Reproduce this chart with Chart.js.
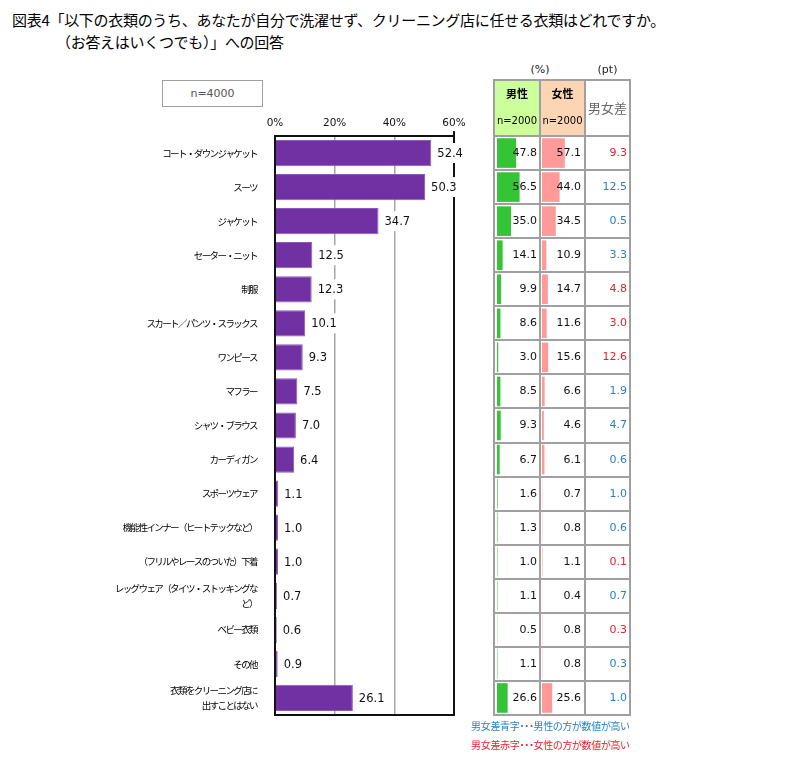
<!DOCTYPE html>
<html>
<head>
<meta charset="utf-8">
<script src="https://cdn.jsdelivr.net/npm/chart.js@4.4.1/dist/chart.umd.min.js"></script>
<style>
  html,body{margin:0;padding:0;background:#fff;}
  body{width:810px;height:766px;overflow:hidden;position:relative;font-family:"Noto Sans CJK JP","Noto Sans",sans-serif;color:#000;}
  .abs{position:absolute;white-space:nowrap;}
  .title{font-size:15px;line-height:22px;letter-spacing:-0.3px;}
  #nbox{left:162px;top:80px;width:99px;height:25px;border:1.5px solid #a0a0a0;font:11px "DejaVu Sans",sans-serif;color:#555;text-align:center;line-height:25px;}
  .num{font:11px "DejaVu Sans",sans-serif;color:#111;text-align:right;}
  .line{background:#a0a0a0;}
  .note{font-size:10px;line-height:14px;font-feature-settings:"palt";letter-spacing:-0.3px;}
</style>
</head>
<body>
<div class="abs title" style="left:12px;top:9px;">図表4「以下の衣類のうち、あなたが自分で洗濯せず、クリーニング店に任せる衣類はどれですか。</div>
<div class="abs title" style="left:56px;top:31px;">（お答えはいくつでも）」への回答</div>
<div class="abs" id="nbox">n=4000</div>

<canvas id="main" class="abs" width="480" height="766" style="left:0;top:0;"></canvas>
<div id="table"></div>

<script>
// ---------- data ----------
const categories = [
  'コート・ダウンジャケット',
  'スーツ',
  'ジャケット',
  'セーター・ニット',
  '制服',
  'スカート／パンツ・スラックス',
  'ワンピース',
  'マフラー',
  'シャツ・ブラウス',
  'カーディガン',
  'スポーツウェア',
  '機能性インナー（ヒートテックなど）',
  '（フリルやレースのついた）下着',
  ['レッグウェア（タイツ・ストッキングな', 'ど）'],
  'ベビー衣類',
  'その他',
  ['衣類をクリーニング店に', '出すことはない']
];
const totalValues  = [52.4, 50.3, 34.7, 12.5, 12.3, 10.1, 9.3, 7.5, 7.0, 6.4, 1.1, 1.0, 1.0, 0.7, 0.6, 0.9, 26.1];
const maleValues   = [47.8, 56.5, 35.0, 14.1, 9.9, 8.6, 3.0, 8.5, 9.3, 6.7, 1.6, 1.3, 1.0, 1.1, 0.5, 1.1, 26.6];
const femaleValues = [57.1, 44.0, 34.5, 10.9, 14.7, 11.6, 15.6, 6.6, 4.6, 6.1, 0.7, 0.8, 1.1, 0.4, 0.8, 0.8, 25.6];
const diffValues   = [9.3, 12.5, 0.5, 3.3, 4.8, 3.0, 12.6, 1.9, 4.7, 0.6, 1.0, 0.6, 0.1, 0.7, 0.3, 0.3, 1.0];
const xTicks = [0, 20, 40, 60];
const headerLabels = { unitPct: '(%)', unitPt: '(pt)', male: '男性', female: '女性', n: 'n=2000', diff: '男女差' };
const notes = ['男女差青字・・・男性の方が数値が高い', '男女差赤字・・・女性の方が数値が高い'];

// ---------- styles ----------
const PURPLE = '#7131a2';
const GREEN = '#35c435';
const PINK = '#ff9a9a';
const BLUE = '#2a7fc4';
const RED = '#e3232c';

// ---------- main chart ----------
const frameAndSpacing = {
  id: 'frameAndSpacing',
  beforeDraw(chart) { chart.ctx.letterSpacing = '-1.6px'; },
  beforeDatasetsDraw(chart) {
    const ctx = chart.ctx, a = chart.chartArea;
    ctx.letterSpacing = '0px';
    ctx.save();
    ctx.strokeStyle = '#111';
    ctx.lineWidth = 2;
    ctx.strokeRect(a.left, a.top, a.right - a.left, a.bottom - a.top);
    ctx.beginPath();
    ctx.moveTo(a.right, a.top);
    ctx.lineTo(a.right, a.top - 5);
    ctx.stroke();
    ctx.restore();
  },
  afterDatasetsDraw(chart) {
    const ctx = chart.ctx;
    const meta = chart.getDatasetMeta(0);
    ctx.save();
    ctx.letterSpacing = '0px';
    ctx.font = '11.5px "DejaVu Sans"';
    ctx.textBaseline = 'middle';
    ctx.textAlign = 'left';
    meta.data.forEach((bar, i) => {
      const t = totalValues[i].toFixed(1);
      const w = ctx.measureText(t).width;
      const x = bar.x + 6, y = bar.y;
      ctx.fillStyle = '#fff';
      ctx.fillRect(x - 2, y - 10, w + 4, 20);
      ctx.fillStyle = '#111';
      ctx.fillText(t, x, y + 1);
    });
    ctx.restore();
  }
};

new Chart(document.getElementById('main'), {
  type: 'bar',
  data: {
    labels: categories,
    datasets: [{
      data: totalValues,
      backgroundColor: PURPLE,
      borderColor: '#8c5abb',
      borderWidth: 1,
      barPercentage: 0.77,
      categoryPercentage: 1
    }]
  },
  options: {
    indexAxis: 'y',
    responsive: false,
    animation: false,
    devicePixelRatio: 1,
    layout: { padding: { top: 100, right: 26, bottom: 51, left: 0 } },
    plugins: { legend: { display: false }, tooltip: { enabled: false } },
    scales: {
      x: {
        position: 'top',
        min: 0, max: 60,
        afterFit(s) { s.height = 36; },
        afterBuildTicks(s) { s.ticks = xTicks.map(v => ({ value: v })); },
        ticks: {
          z: 1,
          padding: 6,
          color: '#111',
          font: { family: 'DejaVu Sans', size: 10.5 },
          callback: v => v + '%'
        },
        grid: {
          drawTicks: false,
          lineWidth: 1.5,
          color: c => (c.tick && (c.tick.value === 20 || c.tick.value === 40)) ? '#a6a6a6' : 'rgba(0,0,0,0)'
        },
        border: { display: false }
      },
      y: {
        afterFit(s) { s.width = 275; },
        grid: { display: false },
        border: { display: false },
        ticks: {
          autoSkip: false,
          padding: 10,
          color: '#000',
          font: { family: 'Noto Sans CJK JP', size: 9.5, lineHeight: 1.65 }
        }
      }
    }
  },
  plugins: [frameAndSpacing]
});

// ---------- table (HTML) + mini bar charts ----------
const T = document.getElementById('table');
const colX = [494, 540, 585, 630];
const headTop = 80, rowTop = 136, rowH = (715 - 136) / categories.length, tableBottom = 716;

function el(cls, style, text) {
  const d = document.createElement('div');
  d.className = 'abs ' + cls;
  Object.assign(d.style, style);
  if (text !== undefined) d.textContent = text;
  T.appendChild(d);
  return d;
}
el('', { left: '495px', top: headTop + 'px', width: '45px', height: (rowTop - headTop) + 'px', background: '#ccff99' });
el('', { left: '541px', top: headTop + 'px', width: '44px', height: (rowTop - headTop) + 'px', background: '#fcd5b5' });

function miniChart(left, values, color) {
  const c = document.createElement('canvas');
  c.width = 40; c.height = Math.round(715 - rowTop);
  c.className = 'abs';
  c.style.left = left + 'px';
  c.style.top = rowTop + 'px';
  T.appendChild(c);
  new Chart(c, {
    type: 'bar',
    data: { labels: categories, datasets: [{ data: values, backgroundColor: color, borderWidth: 0, barPercentage: 0.87, categoryPercentage: 1 }] },
    options: {
      indexAxis: 'y', responsive: false, animation: false, devicePixelRatio: 1,
      layout: { padding: 0 },
      plugins: { legend: { display: false }, tooltip: { enabled: false } },
      scales: { x: { display: false, min: 0, max: 100 }, y: { display: false } }
    }
  });
}
miniChart(497, maleValues, GREEN);
miniChart(542, femaleValues, PINK);

el('', { left: colX[0] + 'px', width: '92px', top: '63px', textAlign: 'center', font: '11px "DejaVu Sans"', color: '#222' }, headerLabels.unitPct);
el('', { left: colX[2] + 'px', width: '45px', top: '63px', textAlign: 'center', font: '11px "DejaVu Sans"', color: '#222' }, headerLabels.unitPt);
el('', { left: colX[0] + 'px', width: '46px', top: '85px', textAlign: 'center', fontSize: '11px', fontWeight: 'bold', lineHeight: '16px' }, headerLabels.male);
el('', { left: colX[1] + 'px', width: '45px', top: '85px', textAlign: 'center', fontSize: '11px', fontWeight: 'bold', lineHeight: '16px' }, headerLabels.female);
el('', { left: colX[0] + 'px', width: '46px', top: '114px', textAlign: 'center', font: '10px "DejaVu Sans"', lineHeight: '14px' }, headerLabels.n);
el('', { left: colX[1] + 'px', width: '45px', top: '114px', textAlign: 'center', font: '10px "DejaVu Sans"', lineHeight: '14px' }, headerLabels.n);
el('', { left: colX[2] + 'px', width: '45px', top: '98px', textAlign: 'center', fontSize: '13px', lineHeight: '20px', color: '#666' }, headerLabels.diff);

categories.forEach((_, i) => {
  const top = (rowTop + i * rowH) + 'px', lh = rowH + 'px';
  el('num', { left: '494px', width: '43px', top, height: lh, lineHeight: lh }, maleValues[i].toFixed(1));
  el('num', { left: '540px', width: '41px', top, height: lh, lineHeight: lh }, femaleValues[i].toFixed(1));
  el('num', { left: '585px', width: '42px', top, height: lh, lineHeight: lh, color: maleValues[i] >= femaleValues[i] ? BLUE : RED }, diffValues[i].toFixed(1));
});

colX.forEach(x => el('line', { left: (x - 1) + 'px', top: (headTop - 1) + 'px', width: '2px', height: (tableBottom - headTop + 1) + 'px' }));
const hLines = [headTop, rowTop];
for (let i = 1; i <= categories.length; i++) hLines.push(rowTop + i * rowH);
hLines.forEach(y => el('line', { left: (colX[0] - 1) + 'px', top: (y - 1) + 'px', width: (colX[3] - colX[0] + 2) + 'px', height: '2px' }));

el('note', { left: '471px', top: '719px', color: BLUE }, notes[0]);
el('note', { left: '471px', top: '738px', color: RED }, notes[1]);
</script>
</body>
</html>
